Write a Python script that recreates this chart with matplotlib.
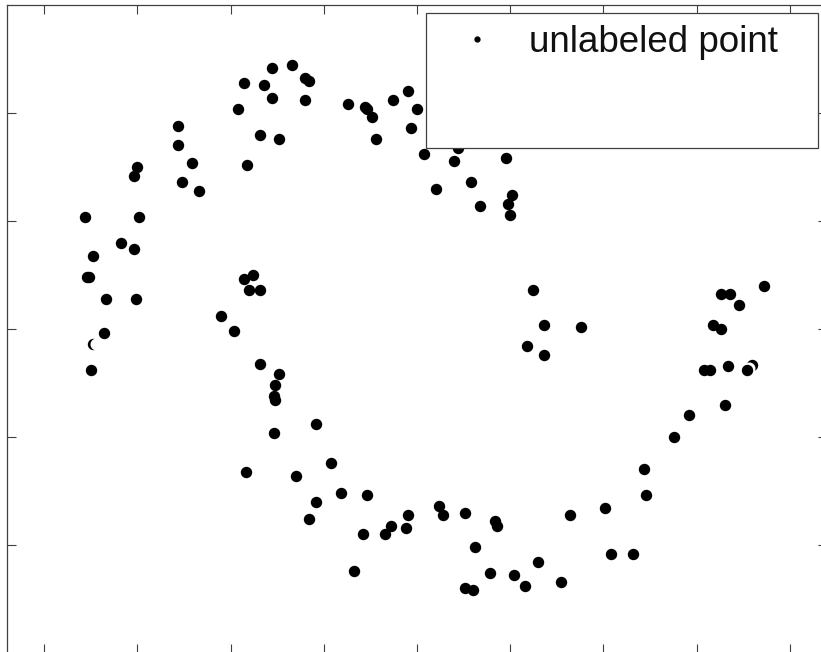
import matplotlib
matplotlib.use("Agg")
import matplotlib.pyplot as plt
from matplotlib.patches import Rectangle

# unlabeled points
x_pts = [0.22, 0.33, 0.07, 0.18, 0.40, 0.42, 0.22, 0.40, 0.04, 0.63,
         0.72, 0.73, 0.76, 0.87, 0.95, 1.00, 0.97, 0.78, 1.04, -0.28,
         -0.28, -0.21, -0.26, -0.17, 0.16, 0.26, 0.09, -0.50, -0.52, -0.78,
         -0.49, -0.59, -0.52, -0.74, -0.77, -0.76, -0.67, -0.51, -0.05, 0.07,
         0.12, 0.10, 0.16, 1.22, 1.20, 1.48, 1.10, 1.29, 1.34, 1.51,
         1.49, 1.50, 1.62, 1.68, 1.88, 1.59, 1.68, 2.86, 2.63, 2.68,
         2.73, 2.59, 2.63, 2.54, 2.57, 2.67, 2.77, -0.68, -0.75, 0.02,
         0.16, 0.26, 0.24, 0.23, 0.24, 0.23, 0.46, 0.08, 0.35, 0.54,
         0.59, 0.73, 0.46, 0.42, 0.95, 0.86, 0.94, 0.71, 0.83, 0.66,
         1.12, 1.14, 1.26, 1.42, 1.43, 1.31, 1.39, 1.52, 1.58, 1.77,
         1.26, 1.30, 1.65, 1.82, 2.01, 2.04, 2.16, 2.22, 2.23, 2.38,
         2.46, 2.65]
y_pts = [1.71, 1.72, 1.64, 1.63, 1.66, 1.65, 1.57, 1.56, 1.52, 1.54,
         1.53, 1.52, 1.48, 1.56, 1.60, 1.52, 1.43, 1.38, 1.31, 1.44,
         1.35, 1.27, 1.18, 1.14, 1.40, 1.38, 1.26, 1.25, 1.21, 1.02,
         1.02, 0.90, 0.87, 0.84, 0.74, 0.74, 0.64, 0.64, 0.56, 0.73,
         0.75, 0.68, 0.68, 1.34, 1.28, 1.29, 1.15, 1.18, 1.07, 1.12,
         1.08, 1.03, 0.68, 0.52, 0.51, 0.42, 0.38, 0.70, 0.66, 0.66,
         0.61, 0.52, 0.50, 0.31, 0.31, 0.33, 0.31, 0.48, 0.31, 0.49,
         0.34, 0.29, 0.24, 0.19, 0.17, 0.02, 0.06, -0.16, -0.18, -0.12,
         -0.26, -0.27, -0.30, -0.38, -0.36, -0.41, -0.42, -0.45, -0.45, -0.62,
         -0.32, -0.36, -0.35, -0.39, -0.41, -0.51, -0.63, -0.64, -0.69, -0.67,
         -0.70, -0.71, -0.58, -0.36, -0.33, -0.54, -0.54, -0.15, -0.27, 0.00,
         0.10, 0.15]

# points that are almost hidden in the reference (only a sliver shows)
hidden_x = [-0.74, 2.795]
hidden_y = [0.43, 0.335]
cover_x = [-0.725, 2.782]
cover_y = [0.43, 0.318]

x_ticks = [-1.0, -0.5, 0.0, 0.5, 1.0, 1.5, 2.0, 2.5, 3.0]
y_ticks = [-0.5, 0.0, 0.5, 1.0, 1.5]

fig = plt.figure(figsize=(8.21, 6.52), dpi=100)
ax = fig.add_axes([7 / 821, -1 / 652, 820 / 821, 648 / 652])

ax.plot(hidden_x, hidden_y, "o", color="black", ms=7.2, zorder=2)
ax.plot(cover_x, cover_y, "o", color="white", mec="white", ms=7.6, zorder=2.5)
ax.plot(x_pts, y_pts, "o", color="black", ms=7.2, zorder=3)

ax.set_xlim(-1.2, 3.2)
ax.set_ylim(-1.0, 2.0)
ax.set_xticks(x_ticks)
ax.set_yticks(y_ticks)
ax.tick_params(direction="in", length=6.5, width=0.8, color="#404040",
               top=True, right=True, labelbottom=False, labelleft=False)
for s in ax.spines.values():
    s.set_color("#404040")
    s.set_linewidth(0.9)

# legend box drawn by hand (MATLAB style, oversized box)
ax.add_patch(Rectangle((0.511, 0.780), 0.478, 0.2075, transform=ax.transAxes,
                       facecolor="white", edgecolor="#404040", lw=0.9, zorder=5))
ax.plot([0.573], [0.9475], "o", color="black", ms=3.5,
        transform=ax.transAxes, zorder=6, clip_on=False)
ax.text(0.6366, 0.9275, "unlabeled point", transform=ax.transAxes,
        fontsize=26.5, family="Liberation Sans", color="#111111",
        va="baseline", ha="left", zorder=6)

plt.savefig("out.png", dpi=100)
plt.close()
